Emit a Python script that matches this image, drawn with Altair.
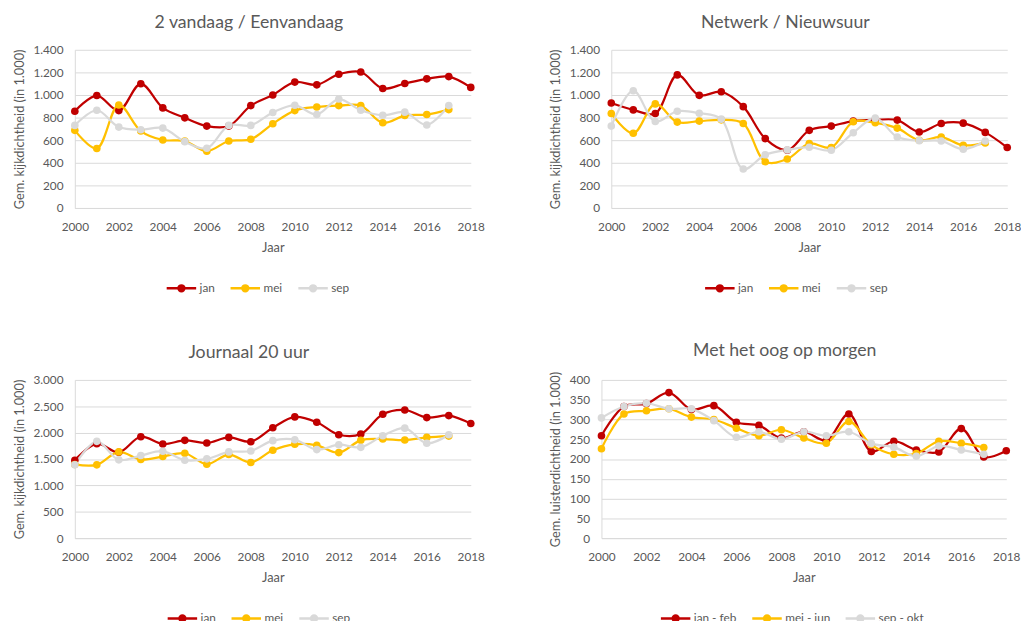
import altair as alt
import pandas as pd

years = list(range(2000, 2019))

# Panel 1: 2 vandaag / Eenvandaag
p1_jan = [856, 995, 862, 1099, 886, 798, 725, 725, 906, 1000, 1114, 1090, 1184, 1204, 1058, 1102, 1143, 1163, 1067]
p1_mei = [687, 526, 912, 681, 602, 593, 503, 593, 608, 745, 862, 894, 906, 906, 754, 818, 827, 871, None]
p1_sep = [731, 865, 716, 693, 707, 587, 529, 731, 731, 845, 909, 827, 964, 865, 821, 848, 734, 906, None]

# Panel 2: Netwerk / Nieuwsuur
p2_jan = [929, 868, 836, 1178, 997, 1029, 897, 614, 511, 687, 725, 769, 780, 778, 672, 748, 751, 669, 535]
p2_mei = [836, 661, 921, 760, 769, 780, 748, 409, 433, 570, 535, 763, 754, 707, 599, 628, 555, 576, None]
p2_sep = [725, 1038, 766, 856, 839, 786, 345, 471, 514, 538, 511, 666, 795, 628, 596, 593, 520, 593, None]

# Panel 3: Journaal 20 uur
p3_jan = [1478, 1791, 1628, 1923, 1785, 1854, 1804, 1910, 1829, 2092, 2299, 2198, 1960, 1973, 2349, 2430, 2286, 2324, 2173]
p3_mei = [1397, 1390, 1635, 1491, 1547, 1610, 1403, 1585, 1434, 1666, 1779, 1760, 1622, 1854, 1879, 1860, 1910, 1935, None]
p3_sep = [1390, 1835, 1484, 1566, 1647, 1478, 1503, 1635, 1653, 1848, 1866, 1679, 1772, 1722, 1942, 2086, 1798, 1960, None]

# Panel 4: Met het oog op morgen
p4_jan = [259, 333, 340, 368, 325, 335, 293, 285, 253, 269, 247, 314, 219, 245, 223, 218, 277, 205, 221]
p4_mei = [226, 314, 322, 327, 306, 300, 278, 259, 274, 253, 240, 295, 236, 212, 214, 245, 240, 229, None]
p4_sep = [304, 333, 341, 327, 327, 297, 255, 269, 250, 269, 259, 269, 239, 230, 207, 233, 223, 212, None]

names_a = ["jan", "mei", "sep"]
names_b = ["jan - feb", "mei - jun", "sep - okt"]
colors = ["#C00000", "#FFC000", "#D9D9D9"]

FONT = "Lato"
GRAY = "#595959"
# custom legend symbol: short line with a dot in the middle
SYMBOL = ("M-1,0L-0.2,0M0.2,0L1,0"
          "M-0.2,0A0.2,0.2 0 1,1 0.2,0A0.2,0.2 0 1,1 -0.2,0Z")


def panel(title, ytitle, names, series, ymax, ystep, width, legend_x):
    rows = []
    for name, vals in zip(names, series):
        for yr, v in zip(years, vals):
            if v is not None:
                rows.append({"jaar": yr, "waarde": v, "serie": name, "o": names.index(name)})
    df = pd.DataFrame(rows)
    color = alt.Color(
        "serie:N",
        scale=alt.Scale(domain=names, range=colors),
        sort=names,
        legend=alt.Legend(
            title=None, orient="none", direction="horizontal",
            legendX=legend_x, legendY=226,
            symbolType=SYMBOL, symbolSize=900, symbolStrokeWidth=2.5,
            labelFont=FONT, labelFontSize=12, labelColor=GRAY,
            columnPadding=10, labelOffset=2,
        ),
    )
    base = alt.Chart(df).encode(
        x=alt.X(
            "jaar:Q",
            scale=alt.Scale(domain=[2000, 2018], nice=False, zero=False),
            axis=alt.Axis(
                title="Jaar", values=list(range(2000, 2019, 2)), format="d",
                grid=False, ticks=False, labelFlush=False, labelPadding=14,
                titlePadding=9, domainColor="#D9D9D9",
            ),
        ),
        y=alt.Y(
            "waarde:Q",
            scale=alt.Scale(domain=[0, ymax], nice=False),
            axis=alt.Axis(
                title=ytitle, values=list(range(0, ymax + 1, ystep)),
                labelExpr="replace(format(datum.value, ','), ',', '.')",
                ticks=False, labelPadding=12, titlePadding=7,
                gridColor="#D9D9D9", domainColor="#D9D9D9",
            ),
        ),
        color=color,
        order="o:Q",
    )
    line = base.mark_line(interpolate="catmull-rom", strokeWidth=2.25)
    pts = base.mark_point(filled=True, size=60, opacity=1)
    return alt.layer(line, pts).properties(
        width=width, height=161,
        title=alt.TitleParams(title, fontSize=18, font=FONT, color=GRAY,
                              fontWeight="normal", offset=12, frame="bounds",
                              anchor="middle"),
    )


c1 = panel("2 vandaag / Eenvandaag", "Gem. kijkdichtheid (in 1.000)", names_a,
           [p1_jan, p1_mei, p1_sep], 1400, 200, 403, 92)
c2 = panel("Netwerk / Nieuwsuur", "Gem. kijkdichtheid (in 1.000)", names_a,
           [p2_jan, p2_mei, p2_sep], 1400, 200, 403, 94)
c3 = panel("Journaal 20 uur", "Gem. kijkdichtheid (in 1.000)", names_a,
           [p3_jan, p3_mei, p3_sep], 3000, 500, 403, 93)
c4 = panel("Met het oog op morgen", "Gem. luisterdichtheid (in 1.000)", names_b,
           [p4_jan, p4_mei, p4_sep], 400, 50, 412, 59)

row1 = alt.hconcat(c1, c2, spacing=66).resolve_scale(color="independent")
row2 = alt.hconcat(c3, c4, spacing=66).resolve_scale(color="independent")

chart = alt.vconcat(row1, row2, spacing=46).resolve_scale(color="independent").configure_axis(
    labelFont=FONT, labelFontSize=12, labelColor=GRAY,
    titleFont=FONT, titleFontSize=13, titleColor=GRAY, titleFontWeight="normal",
).configure_view(stroke=None).properties(padding={"left": 5, "top": 1, "right": 0, "bottom": 0})

chart.save("out.html", embed_options={"renderer": "svg", "actions": False})
